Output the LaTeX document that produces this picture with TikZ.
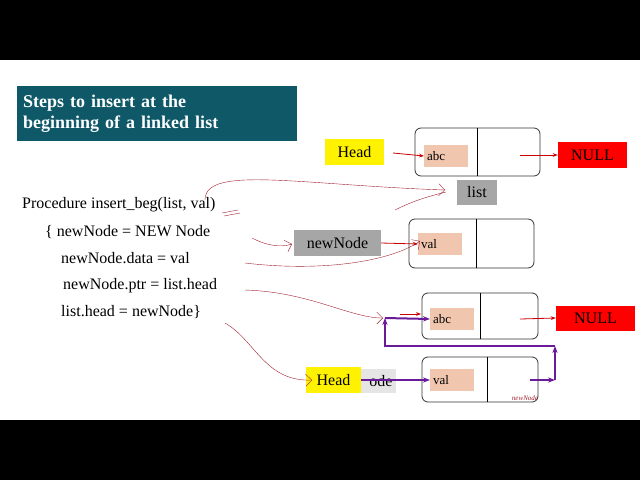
\documentclass[tikz,border=0pt]{standalone}
\usepackage{fontspec}
\setmainfont{Liberation Serif}
\usetikzlibrary{positioning, arrows.meta}

\definecolor{titleteal}{HTML}{0F5868}
\definecolor{pinkish}{HTML}{F1C6AE}
\definecolor{ink}{HTML}{A02030}
\definecolor{purp}{HTML}{6A1B9A}

\tikzset{
  cell/.style={draw=black!80, thick, rounded corners=6pt},
  databox/.style={fill=pinkish, font=\fontsize{13}{13}\selectfont, anchor=west, inner sep=0pt, text depth=0pt, align=left, text width=44pt, minimum height=22pt},
  tag/.style={font=\fontsize{16}{16}\selectfont, inner sep=0pt, minimum height=26pt},
  redarrow/.style={-{Stealth[length=5pt]}, red!80!black, thick},
  purparrow/.style={-{Stealth[length=7pt]}, purp, line width=2pt},
  scribble/.style={-{Straight Barb[length=6pt]}, ink, thin},
  codeline/.style={font=\fontsize{16}{16}\selectfont, anchor=west, inner sep=0pt}
}

\begin{document}
\begin{tikzpicture}[x=1pt, y=-1pt]
  \useasboundingbox (0,0) rectangle (640,480);
  % Black bars
  \fill[black] (0,0) rectangle (640,60);
  \fill[black] (0,420) rectangle (640,480);

  % Title
  \node[fill=titleteal, text=white, font=\bfseries\fontsize{18}{21}\selectfont, align=left, anchor=north west, minimum width=280pt, minimum height=55pt, text width=268pt] (title) at (17,86) {Steps to insert at the\\beginning of a linked list};

  % Procedure text
  \node[codeline] (p1) at (22,205) {Procedure insert\_beg(list, val)};
  \node[codeline] (p2) at (45,232) {\{ newNode = NEW Node};
  \node[codeline] (p3) at (61,258) {newNode.data = val};
  \node[codeline] (p4) at (63,286) {newNode.ptr = list.head};
  \node[codeline] (p5) at (61,312) {list.head = newNode\}};

  % First list
  \draw[cell] (415,128) rectangle (540,176);
  \draw[thick] (477,128) -- (477,176);
  \node[databox] (abcA) at (424,156) {\hspace{3pt}abc};
  \node[tag, fill=yellow, minimum width=59pt] (headA) at (354.5,152) {Head};
  \node[tag, fill=red, minimum width=69pt] (nullA) at (592.5,155) {NULL};
  \coordinate (outA) at (520,155);
  \draw[redarrow] (393,153) -- (abcA.west);
  \draw[redarrow] (outA) -- (nullA.west);
  \node[tag, fill=black!35, minimum width=40pt, minimum height=25pt] (list) at (477,192.5) {list};

  % New node
  \draw[cell] (409,219) rectangle (534,268);
  \draw[thick] (476,219) -- (476,268);
  \node[databox] (valB) at (418,244) {\hspace{3pt}val};
  \node[tag, fill=black!35, minimum width=87pt] (newnode) at (337.5,243) {newNode};
  \draw[redarrow] (newnode.east) -- (valB.west);

  % Resulting list
  \draw[cell] (422,293) rectangle (538,339);
  \draw[thick] (480,293) -- (480,339);
  \node[databox] (abcC) at (430,319) {\hspace{3pt}abc};
  \node[tag, fill=red, minimum width=79pt, minimum height=25pt] (nullC) at (595.5,318) {NULL};
  \draw[redarrow] (520,319) -- (nullC.west);
  \draw[redarrow] (400,314) -- (421,314);

  \draw[cell] (422,357) rectangle (538,402);
  \draw[thick] (487,357) -- (487,402);
  \node[databox] (valD) at (430,380) {\hspace{3pt}val};
  \node[tag, fill=black!10, minimum width=89pt, minimum height=24pt, text width=82pt, align=right] (oldnode) at (351.5,381) {ode};
  \node[tag, fill=yellow, minimum width=55pt] (headD) at (333.5,380) {Head};

  % Purple pointers
  \coordinate (ptrD) at (530,380);
  \coordinate (turnR) at (555,380);
  \coordinate (topR) at (555,346);
  \coordinate (turnL) at (385,346);
  \coordinate (upL) at (385,318);
  \draw[purparrow] (headD.east) -- (valD.west);
  \draw[purparrow] (ptrD) -- (turnR);
  \draw[purparrow] (turnR) -- (topR);
  \draw[purp, line width=2pt] (topR) -- (turnL) -- (385,330);
  \draw[purparrow] (turnL) -- (upL);
  \draw[purparrow] (upL) -- (abcC.west);

  % Hand-drawn annotations
  \draw[scribble] (205,200) .. controls (205,165) and (300,185) .. (445,190);
  \draw[ink, thin] (395,210) .. controls (415,200) and (430,196) .. (446,192);
  \draw[ink, thin] (222,213) -- (238,210) (224,216) -- (240,213);
  \draw[scribble] (252,238) .. controls (265,245) and (280,248) .. (292,244);
  \draw[scribble] (245,263) .. controls (320,272) and (390,262) .. (420,241);
  \draw[scribble] (245,290) .. controls (310,292) and (350,318) .. (383,318);
  \draw[scribble] (225,323) .. controls (255,340) and (265,382) .. (312,380);
  \node[ink, font=\itshape\fontsize{7}{7}\selectfont, inner sep=0pt] (scrawl) at (525,398) {newNode};
\end{tikzpicture}
\end{document}
